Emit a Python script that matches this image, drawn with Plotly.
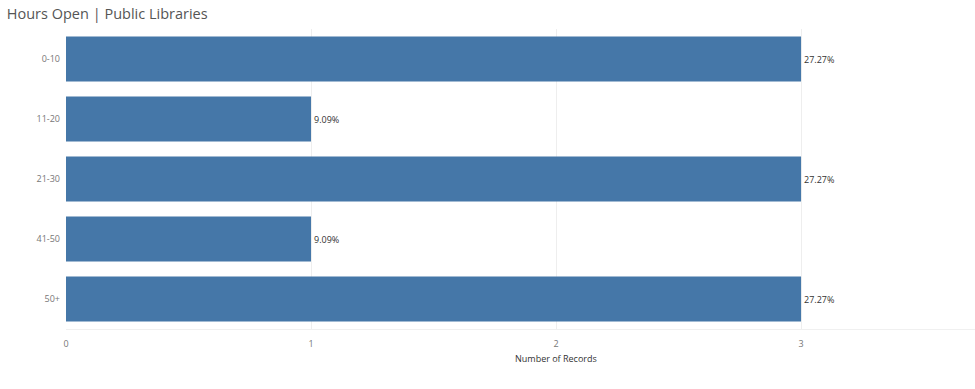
import plotly.graph_objects as go

categories = ["0-10", "11-20", "21-30", "41-50", "50+"]
records = [3, 1, 3, 1, 3]
x_ticks = [0, 1, 2, 3]

total = sum(records)
labels = [f"{v / total * 100:.2f}%" for v in records]

fig = go.Figure(
    go.Bar(
        x=records,
        y=categories,
        orientation="h",
        marker=dict(color="#4577a8", line=dict(width=0)),
        width=0.75,
        text=labels,
        textposition="outside",
        cliponaxis=False,
        textfont=dict(family="Open Sans, sans-serif", size=9, color="#333333"),
    )
)

fig.update_layout(
    width=975,
    height=389,
    margin=dict(l=66, r=0, t=29, b=60),
    paper_bgcolor="white",
    plot_bgcolor="white",
    showlegend=False,
    title=dict(
        text="Hours Open | Public Libraries",
        x=0.007,
        xanchor="left",
        y=0.963,
        yanchor="middle",
        font=dict(family="Open Sans, sans-serif", size=14.5, color="#555555"),
    ),
    xaxis=dict(
        range=[0, 3.71],
        tickvals=x_ticks,
        showgrid=True,
        gridcolor="#eeeeee",
        gridwidth=1,
        zeroline=False,
        showline=True,
        linecolor="#f0f0f0",
        tickfont=dict(family="Open Sans, sans-serif", size=9, color="#777777"),
        ticks="",
        ticklabelstandoff=6,
    ),
    yaxis=dict(
        autorange="reversed",
        showgrid=False,
        zeroline=False,
        showline=False,
        ticks="",
        ticklabelstandoff=5,
        tickfont=dict(family="Open Sans, sans-serif", size=9, color="#777777"),
    ),
    annotations=[
        dict(
            text="Number of Records",
            xref="paper",
            yref="paper",
            x=(556 - 66) / 909,
            y=-29 / 300,
            xanchor="center",
            yanchor="middle",
            showarrow=False,
            font=dict(family="Open Sans, sans-serif", size=9, color="#333333"),
        )
    ],
)

fig.write_html(
    "out.html",
    config={"displayModeBar": False},
    post_script="document.body.style.margin='0';document.body.style.padding='0';",
)
